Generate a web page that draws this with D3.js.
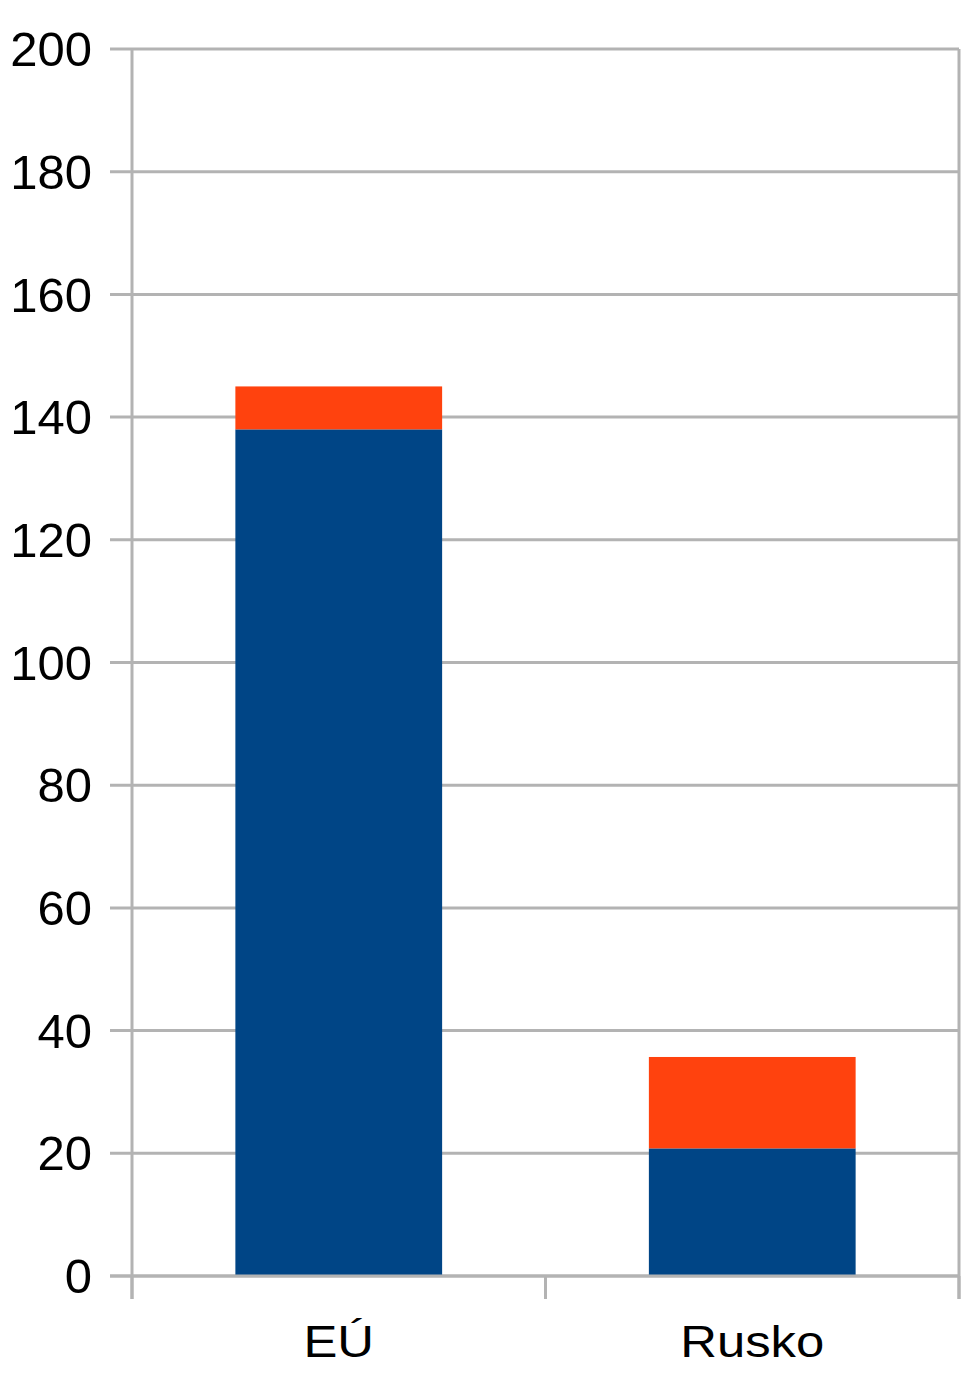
<!DOCTYPE html>
<html><head><meta charset="utf-8">
<script src="https://cdn.jsdelivr.net/npm/d3@7/dist/d3.min.js"></script>
<style>body{margin:0;background:#fff}svg{display:block}text{font-family:"Liberation Sans",Arial,sans-serif;fill:#000}</style>
</head><body>
<svg id="c" width="970" height="1400"></svg>
<script>
const categories = ["EÚ", "Rusko"];
const seriesBlue = [138, 20.8];
const seriesOrange = [7, 14.9];
const yTicks = [0, 20, 40, 60, 80, 100, 120, 140, 160, 180, 200];
const colors = ["#004586", "#ff420e"];

const svg = d3.select("#c");
const L = 132, R = 959, T = 49, B = 1276;
const grid = "#b3b3b3";

const x = d3.scaleBand().domain(categories).range([L, R]).paddingInner(0.5).paddingOuter(0.25);
const y = d3.scaleLinear().domain([0, 200]).range([B, T]);

// gridlines
svg.append("g").selectAll("line").data(yTicks).join("line")
  .attr("x1", L - 22).attr("x2", R).attr("y1", d => y(d)).attr("y2", d => y(d))
  .attr("stroke", grid).attr("stroke-width", 3);

// right frame
svg.append("line").attr("x1", R).attr("x2", R).attr("y1", T).attr("y2", B + 23)
  .attr("stroke", grid).attr("stroke-width", 3);

// stacked bars
const data = categories.map((c, i) => ({cat: c, blue: seriesBlue[i], orange: seriesOrange[i]}));
const stack = d3.stack().keys(["blue", "orange"])(data);
svg.append("g").selectAll("g").data(stack).join("g")
  .attr("fill", (d, i) => colors[i])
  .selectAll("rect").data(d => d).join("rect")
  .attr("x", d => x(d.data.cat)).attr("width", x.bandwidth())
  .attr("y", d => y(d[1])).attr("height", d => y(d[0]) - y(d[1]));

// y axis line
svg.append("line").attr("x1", L).attr("x2", L).attr("y1", T).attr("y2", B + 23)
  .attr("stroke", grid).attr("stroke-width", 3);
// x axis line
svg.append("line").attr("x1", L - 22).attr("x2", R).attr("y1", B).attr("y2", B)
  .attr("stroke", grid).attr("stroke-width", 3);

// category boundary ticks
const bounds = d3.range(categories.length + 1).map(i => L + i * (R - L) / categories.length);
svg.append("g").selectAll("line").data(bounds).join("line")
  .attr("x1", d => d).attr("x2", d => d).attr("y1", B).attr("y2", B + 23)
  .attr("stroke", grid).attr("stroke-width", 3);

// y labels
svg.append("g").selectAll("text").data(yTicks).join("text")
  .attr("x", 92).attr("y", d => y(d)).attr("dy", "0.35em")
  .attr("text-anchor", "end").attr("font-size", 49).text(d => d);

// x labels
svg.append("g").selectAll("text").data(categories).join("text")
  .attr("transform", d => `translate(${x(d) + x.bandwidth() / 2},1341) scale(1.13,1)`)
  .attr("dy", "0.35em")
  .attr("text-anchor", "middle").attr("font-size", 45).text(d => d);
</script>
</body></html>
